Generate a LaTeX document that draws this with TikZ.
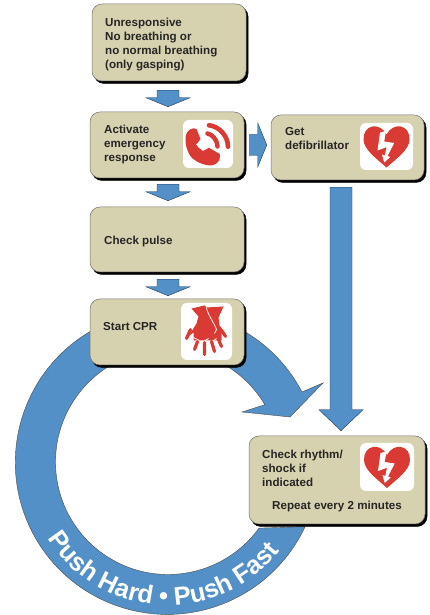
\documentclass[tikz,border=0pt]{standalone}
\usepackage{fontspec}
\setmainfont{Liberation Sans}
\usetikzlibrary{calc,shadows,decorations.text}
\definecolor{boxtan}{HTML}{D6D2AF}
\definecolor{flowblue}{HTML}{5390C8}
\definecolor{aidred}{HTML}{D93A34}
\tikzset{
  x=1pt,y=1pt,
  stepbox/.style={rectangle,rounded corners=10pt,draw=black!55,line width=.5pt,fill=boxtan,
    inner sep=0pt,copy shadow={shadow xshift=2pt,shadow yshift=-2.5pt,draw=black,fill=black}},
  iconbox/.style={rectangle,rounded corners=6pt,fill=white,inner sep=0pt},
  lbl/.style={font=\fontsize{11.6}{14}\selectfont\bfseries,align=left,anchor=north west,inner sep=0pt,text=black!85},
  blockshape/.style={fill=flowblue,draw=black!60!flowblue,line width=.4pt},
  pics/heartbolt/.style={code={
    \fill[aidred] (0,12) .. controls (3,18) and (9,21) .. (14,20) .. controls (20,19) and (23,14) .. (23,7)
      .. controls (23,-3) and (10,-12) .. (0,-21) .. controls (-10,-12) and (-23,-3) .. (-23,7)
      .. controls (-23,14) and (-20,19) .. (-14,20) .. controls (-9,21) and (-3,18) .. (0,12) -- cycle;
    \fill[white] (-6.5,14) -- (-0.5,15.5) -- (-2.3,5) -- (7.7,3.5) -- (1,-9.5) -- (3.7,-10.5) -- (-2.3,-16)
      -- (-4.5,-8) -- (-1.7,-9) -- (0,-0.7) -- (-9,-4) -- cycle;
  }},
  pics/phonering/.style={code={
    \fill[aidred] (-22.5,6.3) .. controls (-22.5,9) and (-20.5,13) .. (-18,14.5) .. controls (-16,16) and (-13,16) .. (-11.5,15)
      -- (-7.5,5) .. controls (-8,3) and (-11,1) .. (-12,-0.5) .. controls (-11,-3) and (-8,-5) .. (-5,-7)
      .. controls (-3,-6.5) and (-1,-4.5) .. (1,-3.7) -- (11.7,-10) .. controls (12.5,-13) and (11.5,-18) .. (8,-19.7)
      .. controls (5,-21.5) and (2,-21.8) .. (0,-21.3) .. controls (-8,-20) and (-15,-16) .. (-17.7,-12)
      .. controls (-21,-7) and (-23,0) .. (-22.5,6.3) -- cycle;
    \draw[aidred,line width=4.4pt,line cap=round] (-0.5,10.5) .. controls (4,9.5) and (9,5) .. (9.5,-2.5);
    \draw[aidred,line width=4.6pt,line cap=round] (1,18.7) .. controls (10,18) and (20,9) .. (20,-2.7);
  }},
  pics/cprhands/.style={code={
    \fill[aidred] (-15,23) -- (-2,26) -- (0,24) -- (17,25) -- (12,14) -- (13,6) -- (19,-2) -- (15,-2)
      -- (15,-9) -- (-13,-9) -- (-13,-1) -- (-18,-5) -- (-10,8) -- (-8,15) -- cycle;
    \draw[white,line width=.8pt] (0,24) .. controls (1,17) and (7,10) .. (10,2) -- (8,-2);
    \draw[white,line width=.8pt] (-13,-6) -- (-7,-9) (-3,-10) -- (2,-7) (6,-10) -- (10,-7);
    \draw[aidred,line width=3.2pt,line cap=round]
      (-16,2) -- (-20,-7) (-9,-10) -- (-12,-18) (-2,-11) -- (-2,-23) (5,-10) -- (8,-20)
      (12,-8) -- (15,-15) (15,1) -- (19,-5);
  }},
}
\newcommand{\blockarrow}[5]{%
  \coordinate (hb) at ($(#2)!#3!(#1)$);
  \draw[blockshape] ($(#1)!#4!90:(#2)$) -- ($(hb)!#4!-90:(#1)$) -- ($(hb)!#5!-90:(#1)$) -- (#2)
    -- ($(hb)!#5!90:(#1)$) -- ($(hb)!#4!90:(#1)$) -- ($(#1)!#4!-90:(#2)$) -- cycle;
}
\begin{document}
\begin{tikzpicture}
\useasboundingbox (0,0) rectangle (430,615);
\coordinate (ringc) at (168,153);
% circular flow band
\draw[blockshape,draw=black!70] (302,223) arc[start angle=27.6,end angle=335,radius=152]
  -- ($(ringc)+(-36:112.5)$) arc[start angle=324,end angle=30.7,radius=112.5]
  -- (264,210) -- (242,203) -- (290,198) -- (323,232) -- cycle;
\path[decorate,decoration={text along path,text align=center,
    text={|\fontsize{25.5}{25.5}\selectfont\bfseries\color{white}|Push Hard • Push Fast}}]
  ($(ringc)+(197:143)$) arc[start angle=197,end angle=337,radius=143];
% boxes
\node[stepbox,minimum width=154pt,minimum height=77pt] (box1) at (169,572.5) {};
\node[stepbox,minimum width=154pt,minimum height=66pt] (box2) at (167,470) {};
\node[stepbox,minimum width=153pt,minimum height=65pt] (box3) at (347.5,467.5) {};
\node[stepbox,minimum width=154pt,minimum height=65pt] (box4) at (167,375.5) {};
\node[stepbox,minimum width=154pt,minimum height=66pt] (box5) at (167,283) {};
\node[stepbox,minimum width=176pt,minimum height=88pt] (box6) at (337,135) {};
% connectors
\coordinate (a1s) at ($(box1.south)+(-1,-9)$);  \coordinate (a1e) at ($(box2.north)+(1,5)$);
\coordinate (a2s) at ($(box2.south)+(1,-6)$);   \coordinate (a2e) at ($(box4.north)+(1,6)$);
\coordinate (a3s) at ($(box4.south)+(1,-7)$);   \coordinate (a3e) at ($(box5.north)+(1,3)$);
\coordinate (a4s) at ($(box2.east)+(5,0)$);     \coordinate (a4e) at ($(box3.west)+(-4,2.5)$);
\coordinate (a5s) at ($(box3.south)+(-6.5,-7)$);\coordinate (a5e) at ($(box6.north)+(4,5)$);
\blockarrow{a1s}{a1e}{9pt}{11pt}{22pt}
\blockarrow{a2s}{a2e}{9pt}{11pt}{22pt}
\blockarrow{a3s}{a3e}{9pt}{11pt}{22pt}
\blockarrow{a4s}{a4e}{9pt}{10.5pt}{22pt}
\blockarrow{a5s}{a5e}{21pt}{11pt}{22pt}
% labels
\node[lbl] (t1) at (105,597.5) {Unresponsive\\No breathing or\\no normal breathing\\(only gasping)};
\node[lbl] (t2) at (104,490.5) {Activate\\emergency\\response};
\node[lbl] (t3) at (285,487.5) {Get\\defibrillator};
\node[lbl] (t4) at (104,379.5) {Check pulse};
\node[lbl] (t5) at (103,293) {Start CPR};
\node[lbl] (t6) at (262,165.5) {Check rhythm/\\shock if\\indicated};
\node[lbl,anchor=center,align=center] (t7) at (337,108) {Repeat every 2 minutes};
% icons
\node[iconbox,minimum width=50pt,minimum height=48pt] (ic1) at (208,471) {};
\node[iconbox,minimum width=53pt,minimum height=47pt] (ic2) at (386.5,468.5) {};
\node[iconbox,minimum width=51pt,minimum height=57pt] (ic3) at (206.5,283.5) {};
\node[iconbox,minimum width=54pt,minimum height=48pt] (ic4) at (387,148) {};
\pic at (ic1.center) {phonering};
\pic at (ic2.center) {heartbolt};
\pic at (ic3.center) {cprhands};
\pic at (ic4.center) {heartbolt};
\end{tikzpicture}
\end{document}
